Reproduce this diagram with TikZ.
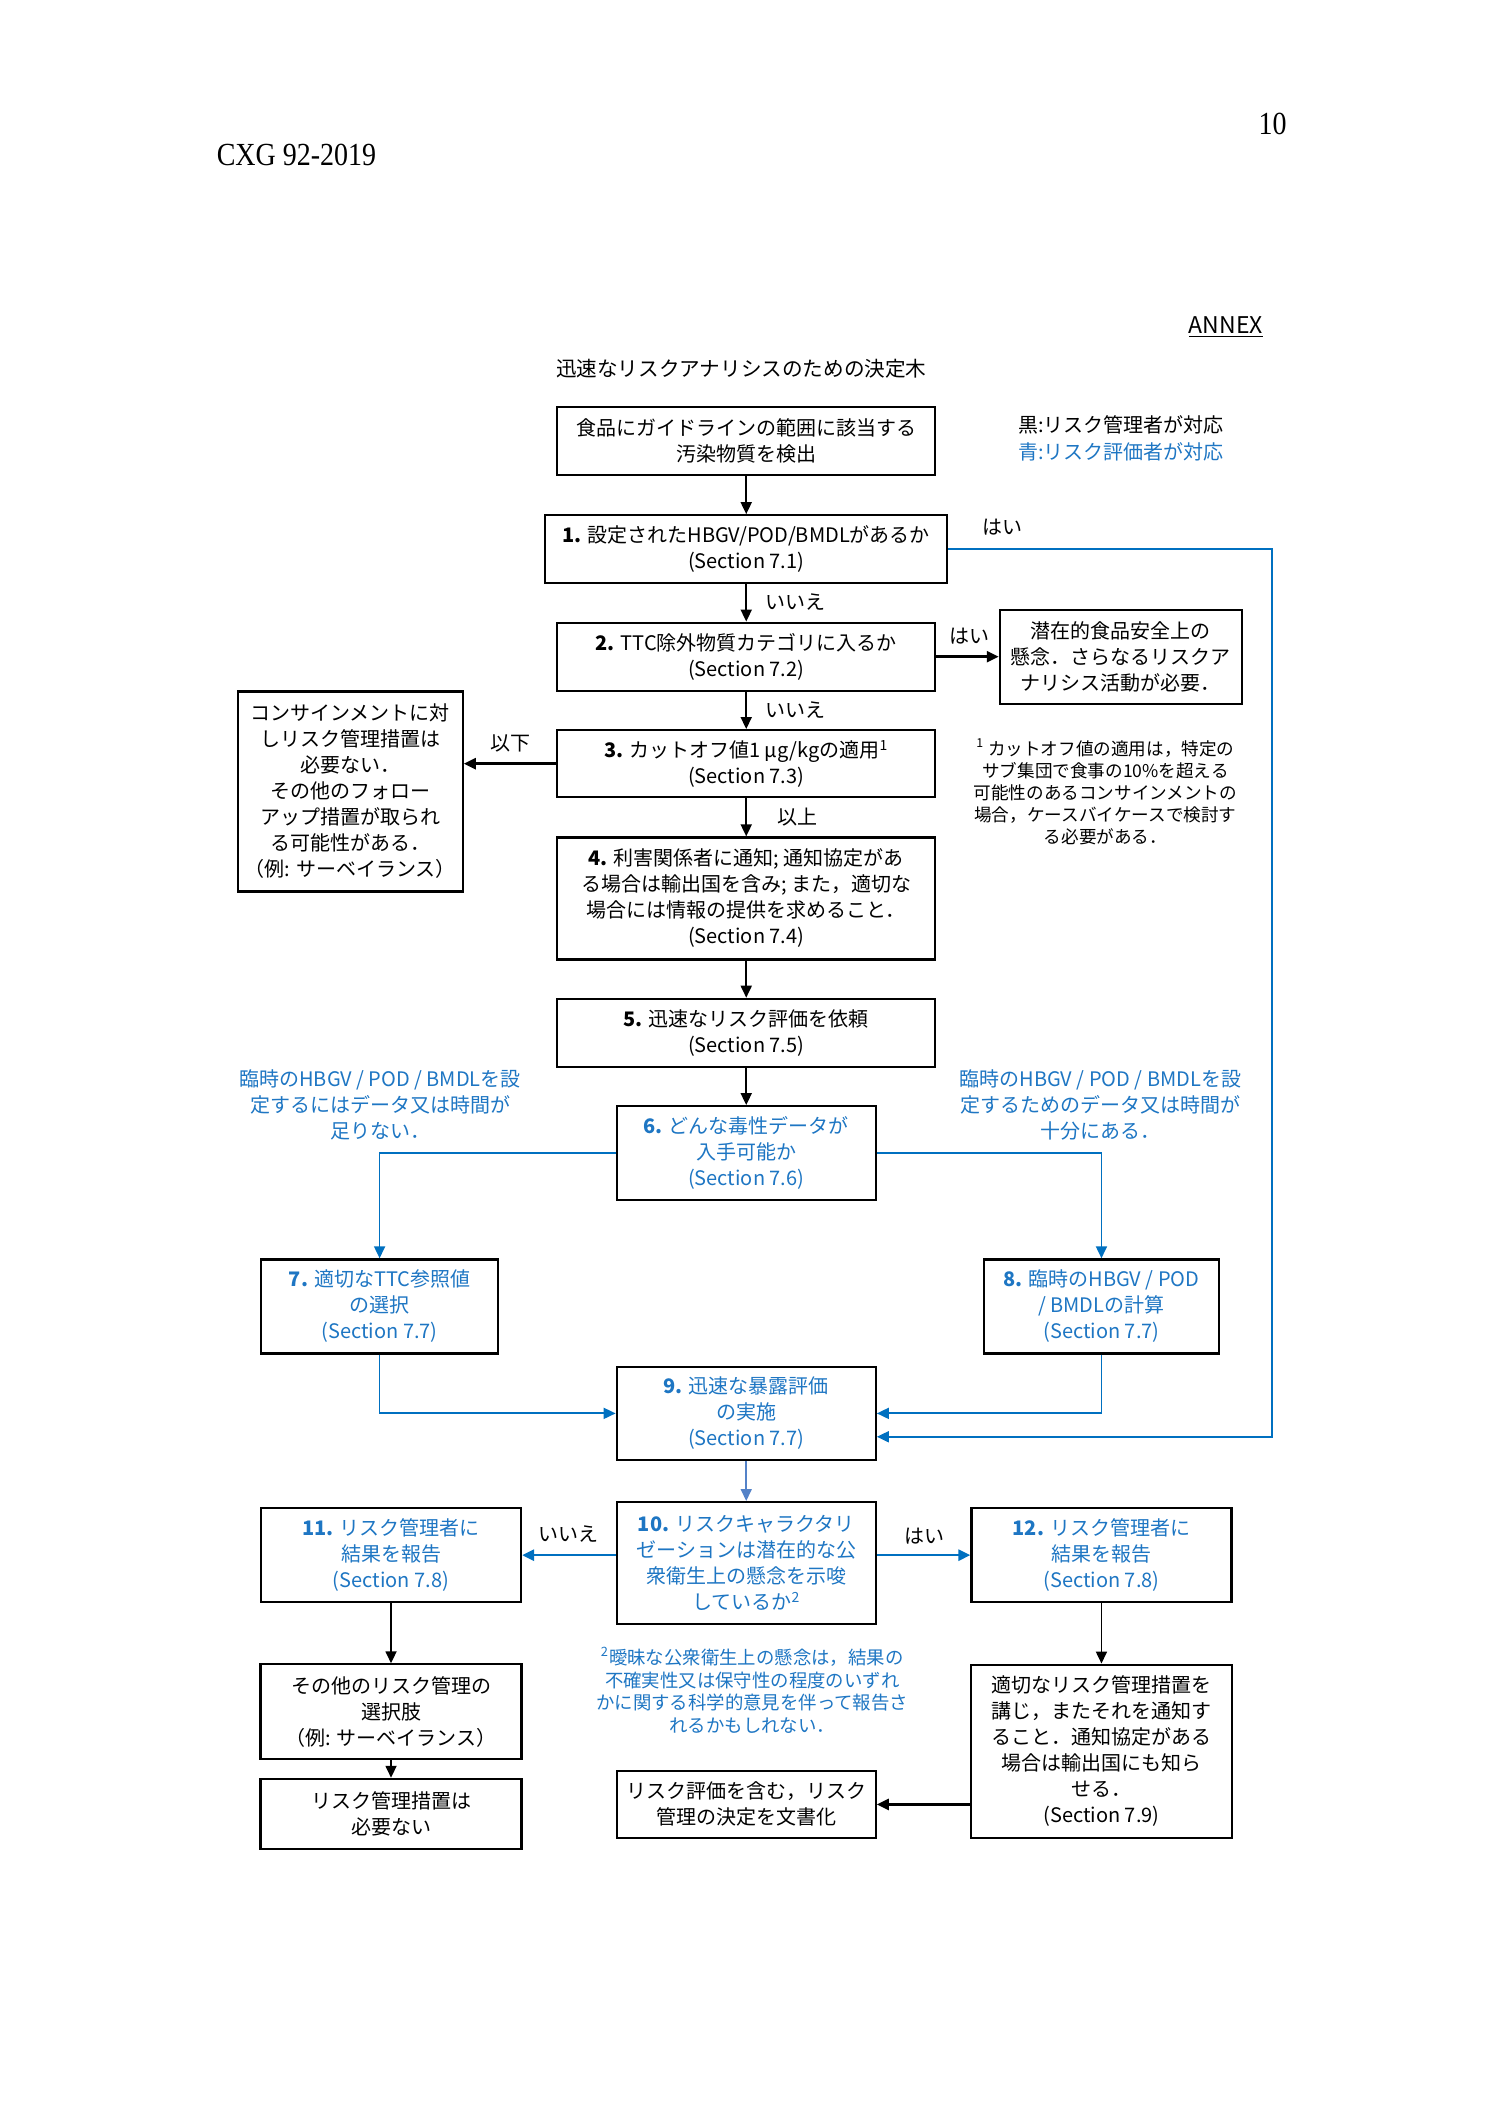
\documentclass[tikz,border=0pt]{standalone}
\usepackage{fontspec}
\setmainfont{Noto Sans CJK JP}
\newfontfamily\hdrfont{Liberation Serif}
\usetikzlibrary{arrows.meta}
\definecolor{lblue}{RGB}{0,112,192}
\definecolor{tblue}{RGB}{30,118,195}
\definecolor{sblue}{RGB}{84,130,200}
\begin{document}
\begin{tikzpicture}[x=0.4975pt,y=-0.4975pt,
  box/.style={draw, line width=1.1pt, align=center, inner sep=0pt, font=\fontsize{10}{13}\selectfont},
  bbox/.style={box, text=tblue},
  arr/.style={line width=0.9pt, -{Triangle[length=6pt,width=5.5pt]}},
  barr/.style={arr, draw=lblue},
  lab/.style={font=\fontsize{10}{13}\selectfont, inner sep=0pt},
  note/.style={align=center, inner sep=0pt},
  hdr/.style={font=\hdrfont\fontsize{14}{16}\selectfont, inner sep=0pt, yscale=1.15, transform shape}]
\useasboundingbox (0,0) rectangle (1507.5,2131.7);

% header
\node[hdr] (cxg) at (298,156) {CXG 92-2019};
\node[hdr] (pg) at (1279,125) {10};
\node[lab, font=\fontsize{11.5}{13}\selectfont] (annex) at (1232,329) {\underline{ANNEX}};
\node[lab, font=\fontsize{10.3}{13}\selectfont] (title) at (745,371) {迅速なリスクアナリシスのための決定木};
\node[lab, anchor=west] (leg1) at (1023,427) {黒:リスク管理者が対応};
\node[lab, anchor=west, text=tblue] (leg2) at (1023,454) {青:リスク評価者が対応};

% boxes
\node[box, minimum width=189pt, minimum height=34pt] (b0) at (750,443) {食品にガイドラインの範囲に該当する\\汚染物質を検出};
\node[box, minimum width=201pt, minimum height=34pt] (b1) at (750,552) {\textbf{1.} 設定されたHBGV/POD/BMDLがあるか\\(Section 7.1)};
\node[box, minimum width=189pt, minimum height=34pt] (b2) at (750,660) {\textbf{2.} TTC除外物質カテゴリに入るか\\(Section 7.2)};
\node[box, minimum width=121pt, minimum height=47pt] (b2r) at (1126.5,660) {潜在的食品安全上の\\懸念．さらなるリスクア\\ナリシス活動が必要．};
\node[box, minimum width=189pt, minimum height=33.5pt] (b3) at (750,767.5) {\textbf{3.} カットオフ値1 μg/kgの適用\textsuperscript{1}\\(Section 7.3)};
\node[box, minimum width=112.5pt, minimum height=100pt] (bl) at (352,795.5) {コンサインメントに対\\しリスク管理措置は\\必要ない．\\その他のフォロー\\アップ措置が取られ\\る可能性がある．\\（例: サーベイランス）};
\node[box, minimum width=189pt, minimum height=61pt] (b4) at (750,903) {\textbf{4.} 利害関係者に通知; 通知協定があ\\る場合は輸出国を含み; また，適切な\\場合には情報の提供を求めること．\\(Section 7.4)};
\node[box, minimum width=189pt, minimum height=34pt] (b5) at (750,1038) {\textbf{5.} 迅速なリスク評価を依頼\\(Section 7.5)};
\node[bbox, minimum width=129.5pt, minimum height=47pt] (b6) at (750,1159) {\textbf{6.} どんな毒性データが\\入手可能か\\(Section 7.6)};
\node[bbox, minimum width=118.5pt, minimum height=47pt] (b7) at (381.5,1313) {\textbf{7.} 適切なTTC参照値\\の選択\\(Section 7.7)};
\node[bbox, minimum width=117.5pt, minimum height=47pt] (b8) at (1107,1313) {\textbf{8.} 臨時のHBGV / POD\\/ BMDLの計算\\(Section 7.7)};
\node[bbox, minimum width=129.5pt, minimum height=46.5pt] (b9) at (750,1420.5) {\textbf{9.} 迅速な暴露評価\\の実施\\(Section 7.7)};
\node[bbox, minimum width=129.5pt, minimum height=61pt] (b10) at (750,1571) {\textbf{10.} リスクキャラクタリ\\ゼーションは潜在的な公\\衆衛生上の懸念を示唆\\しているか\textsuperscript{2}};
\node[bbox, minimum width=130pt, minimum height=47pt] (b11) at (393,1563) {\textbf{11.} リスク管理者に\\結果を報告\\(Section 7.8)};
\node[bbox, minimum width=130pt, minimum height=47pt] (b12) at (1107,1563) {\textbf{12.} リスク管理者に\\結果を報告\\(Section 7.8)};
\node[box, minimum width=130.5pt, minimum height=47.5pt] (b13) at (393,1720.5) {その他のリスク管理の\\選択肢\\（例: サーベイランス）};
\node[box, minimum width=130.5pt, minimum height=35pt] (b14) at (393,1823) {リスク管理措置は\\必要ない};
\node[box, minimum width=129.5pt, minimum height=33.5pt] (b15) at (750,1813.5) {リスク評価を含む，リスク\\管理の決定を文書化};
\node[box, minimum width=130.5pt, minimum height=86.5pt] (b16) at (1107,1760) {適切なリスク管理措置を\\講じ，またそれを通知す\\ること．通知協定がある\\場合は輸出国にも知ら\\せる．\\(Section 7.9)};

% notes
\node[note, font=\fontsize{8.8}{11.1}\selectfont] (fn1) at (1111,796) {\textsuperscript{1} カットオフ値の適用は，特定の\\サブ集団で食事の10\%を超える\\可能性のあるコンサインメントの\\場合，ケースバイケースで検討す\\る必要がある．};
\node[note, font=\fontsize{9.2}{11.3}\selectfont, text=tblue] (fn2) at (756,1699) {\textsuperscript{2}曖昧な公衆衛生上の懸念は，結果の\\不確実性又は保守性の程度のいずれ\\かに関する科学的意見を伴って報告さ\\れるかもしれない．};
\node[note, font=\fontsize{10}{13}\selectfont, text=tblue] (nl) at (382,1110) {臨時のHBGV / POD / BMDLを設\\定するにはデータ又は時間が\\足りない．};
\node[note, font=\fontsize{10}{13}\selectfont, text=tblue] (nr) at (1106,1110) {臨時のHBGV / POD / BMDLを設\\定するためのデータ又は時間が\\十分にある．};

% connector labels
\node[lab] (l1) at (800,605) {いいえ};
\node[lab] (l2) at (800,714) {いいえ};
\node[lab] (l3) at (802,821) {以上};
\node[lab] (l4) at (1008,530) {はい};
\node[lab] (l5) at (974,639) {はい};
\node[lab] (l6) at (513,747) {以下};
\node[lab] (l7) at (571,1542) {いいえ};
\node[lab] (l8) at (929,1544) {はい};

% connectors (black)
\draw[arr] (b0) -- (b1);
\draw[arr] (b1) -- (b2);
\draw[arr] (b2) -- (b3);
\draw[arr] (b3) -- (b4);
\draw[arr] (b4) -- (b5);
\draw[arr] (b5) -- (b6);
\draw[arr, line width=1.3pt] (b2.east) -- (b2.east -| b2r.west);
\draw[arr, line width=1.3pt] (b3.west) -- (b3.west -| bl.east);
\draw[arr] (b11) -- (b13);
\draw[arr] (b13) -- (b14);
\draw[arr] (b12) -- (b16);
\draw[arr, line width=1.3pt] (b15.east -| b16.west) -- (b15.east);

% connectors (blue)
\coordinate (rloop) at (1278,1444);
\draw[barr] (b1.east) -| (rloop) -- (rloop -| b9.east);
\draw[barr] (b6.west) -| (b7.north);
\draw[barr] (b6.east) -| (b8.north);
\draw[barr] (b7.south) |- (b9.west);
\draw[barr] (b8.south) |- (b9.east);
\draw[arr, draw=sblue, line width=0.8pt] (b9) -- (b10);
\draw[barr, line width=1.3pt] (b11.east -| b10.west) -- (b11.east);
\draw[barr, line width=1.3pt] (b12.west -| b10.east) -- (b12.west);
\end{tikzpicture}
\end{document}
